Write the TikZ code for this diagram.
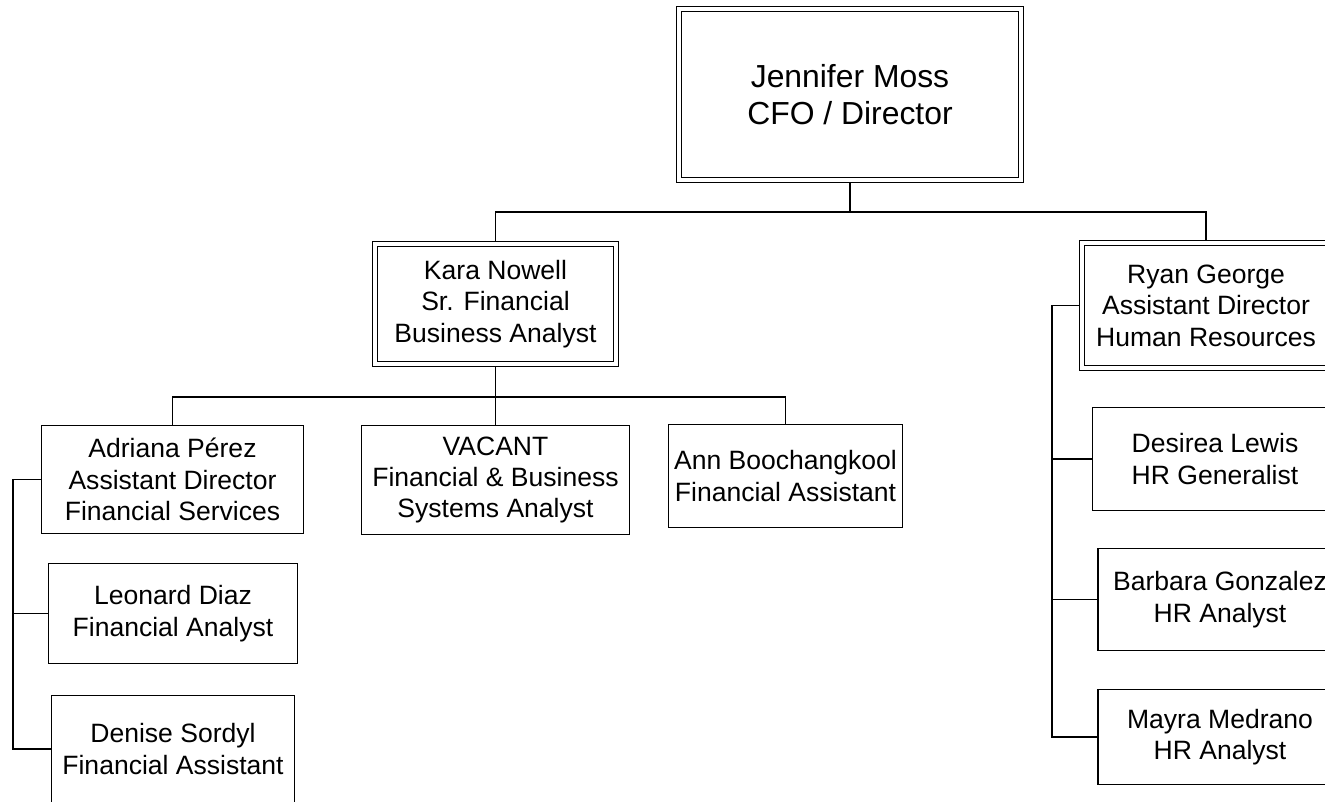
\documentclass[tikz,border=0pt]{standalone}
\usepackage{fontspec}
\setmainfont{Liberation Sans}
\usetikzlibrary{calc}

\tikzset{
	unit/.style={draw, line width=1.2pt, align=center, inner sep=0pt, font=\fontsize{19.9pt}{23.6pt}\selectfont},
	head/.style={unit, line width=1pt, double, double distance=2.5pt, outer sep=2.25pt},
	wire/.style={line width=1.2pt}
}

\begin{document}
\begin{tikzpicture}[x=0.75pt, y=-0.75pt]
		\useasboundingbox (0,0) rectangle (1325,801);
		\clip (0,0) rectangle (1325,801);
		
		\node[head, minimum width=256.5pt, minimum height=128.25pt, font=\fontsize{23.9pt}{27.6pt}\selectfont] (jm) at (850,94.5) {Jennifer Moss\\CFO / Director};
		
		\node[head, minimum width=180.75pt, minimum height=90pt] (kn) at (495.5,304) {Kara Nowell\\Sr. Financial\\Business Analyst};
		\node[head, minimum width=186pt, minimum height=93.75pt] (rg) at (1206,305.5) {Ryan George\\Assistant Director\\Human Resources};
		
		\node[unit, minimum width=196.25pt, minimum height=80.75pt] (ap) at (172.5,479.5) {Adriana Pérez\\Assistant Director\\Financial Services};
		\node[unit, minimum width=200.75pt, minimum height=81.5pt] (va) at (495.5,480) {VACANT\\Financial \& Business\\Systems Analyst};
		\node[unit, minimum width=175.25pt, minimum height=77pt] (ab) at (785.5,476) {Ann Boochangkool\\Financial Assistant};
		
		\node[unit, minimum width=186.5pt, minimum height=74.75pt] (ld) at (173,613.5) {Leonard Diaz\\Financial Analyst};
		\node[unit, minimum width=182pt, minimum height=80pt] (ds) at (173,749) {Denise Sordyl\\Financial Assistant};
		
		\node[unit, minimum width=183.5pt, minimum height=77pt] (dl) at (1215,459) {Desirea Lewis\\HR Generalist};
		\node[unit, minimum width=183pt, minimum height=76.25pt] (bg) at (1220,599.5) {Barbara Gonzalez\\HR Analyst};
		\node[unit, minimum width=183pt, minimum height=71pt] (mm) at (1220,737) {Mayra Medrano\\HR Analyst};
		
		\coordinate (bus1) at (850,212);
		\coordinate (bus2) at (495.5,397);
		\coordinate (lsp) at (13,0);
		\coordinate (rsp) at (1052,0);
		
		\draw[wire] (jm.south) -- (bus1);
		\draw[wire] (kn.north) |- (bus1) -| (rg.north);
		\draw[wire] (kn.south) -- (va.north);
		\draw[wire] (ap.north) |- (bus2) -| (ab.north);
		\draw[wire] (ap.west) -| (lsp |- ds.west) -- (ds.west);
		\draw[wire] (ld.west) -- (ld.west -| lsp);
		\draw[wire] (rg.west) -| (rsp |- mm.west) -- (mm.west);
		\draw[wire] (dl.west) -- (dl.west -| rsp);
		\draw[wire] (bg.west) -- (bg.west -| rsp);
	\end{tikzpicture}
\end{document}
